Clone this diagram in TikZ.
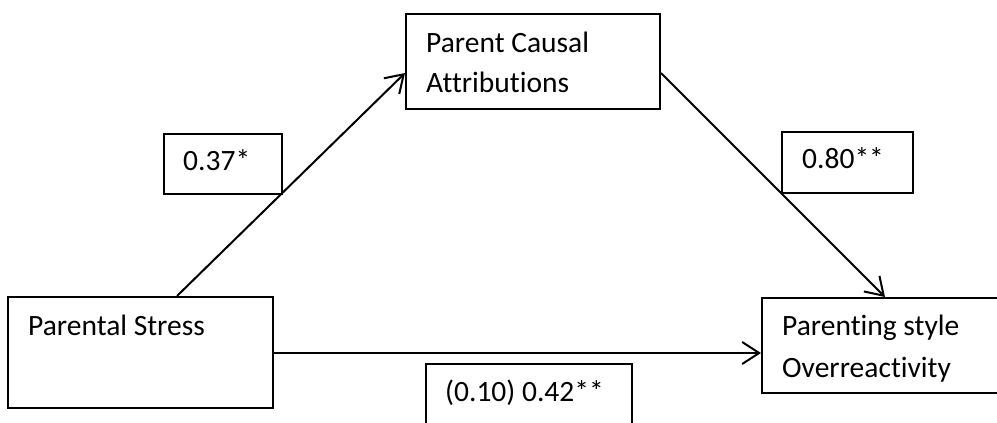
\documentclass[tikz,border=0pt]{standalone}
\usepackage{fontspec}
\setmainfont[Ligatures=NoCommon]{Carlito}
\usetikzlibrary{arrows.meta,calc}
\begin{document}
\begin{tikzpicture}[x=1pt,y=-1pt,
  box/.style={draw,line width=2pt,rectangle,inner sep=0pt,anchor=north west},
  txt/.style={anchor=base west,inner sep=0pt,font=\fontsize{29.5}{34}\selectfont},
  conn/.style={line width=2pt,-{Straight Barb[length=17pt,width=22pt,line width=2pt]}}]
\useasboundingbox (0,0) rectangle (997,423);
\clip (0,0) rectangle (997,423);
% main boxes
\node[box,minimum width=265pt,minimum height=111pt] (ps) at (7,296) {};
\node[box,minimum width=254pt,minimum height=95pt] (pca) at (405,13) {};
\node[box,minimum width=254pt,minimum height=95pt] (pso) at (761,297) {};
% coefficient boxes
\node[box,minimum width=118pt,minimum height=60pt] (c1) at (163,133) {};
\node[box,minimum width=131pt,minimum height=61pt] (c2) at (781,131) {};
\node[box,minimum width=206pt,minimum height=80pt] (c3) at (425,363) {};
% texts
\node[txt] (tps) at (28,335) {Parental Stress};
\node[txt] (tpca1) at (426,52) {Parent Causal};
\node[txt] (tpca2) at (426,92) {Attributions};
\node[txt] (tpso1) at (782,335) {Parenting style};
\node[txt] (tpso2) at (782,377) {Overreactivity};
\node[txt] (tc1) at (183,170) {0.37*};
\node[txt] (tc2) at (802,168) {0.80**};
\node[txt] (tc3) at (445,401) {(0.10) 0.42**};
% connectors
\draw[conn] ($(ps.north west)+(170,0)$) -- ($(pca.north west)+(0,60)$);
\draw[conn] ($(pca.north east)+(0,60)$) -- ($(pso.north west)+(124,0)$);
\draw[conn] ($(ps.north east)+(0,57)$) -- ($(pso.north west)+(0,56)$);
\end{tikzpicture}
\end{document}
